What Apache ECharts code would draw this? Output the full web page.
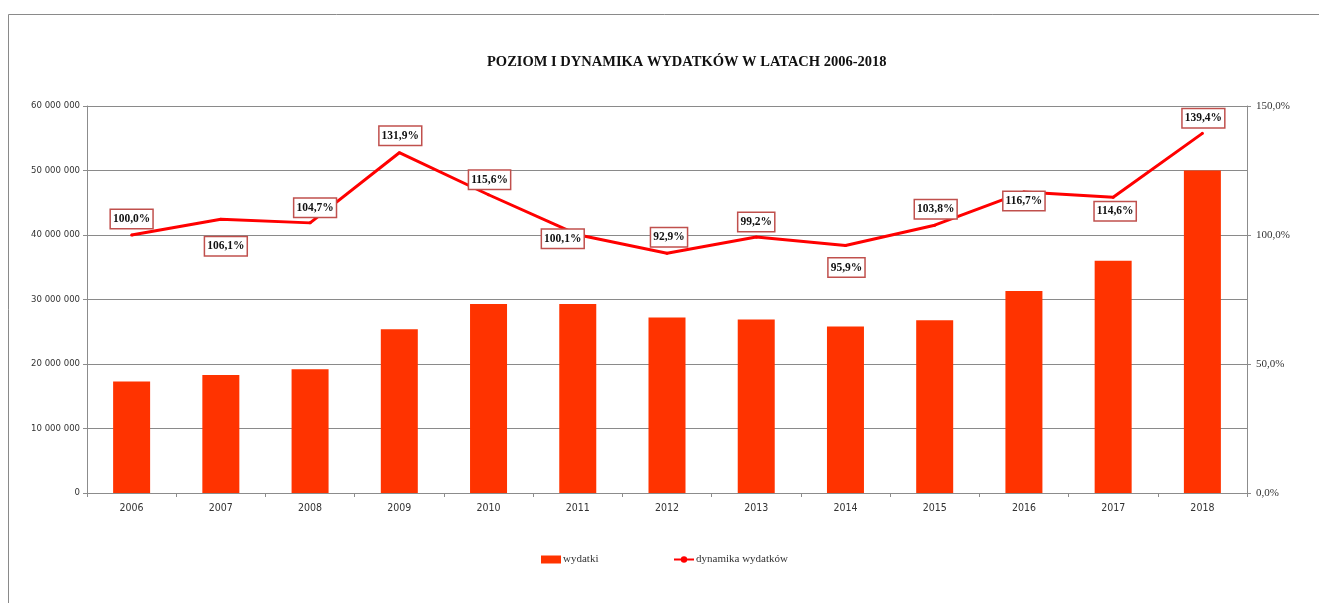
<!DOCTYPE html>
<html lang="pl">
<head>
  <meta charset="UTF-8">
  <title>Poziom i dynamika wydatków</title>
  <style>
    html, body { margin: 0; height: 100%; width: 100%; background: #fff; }
  </style>
</head>
<body>
  <div id="chart" style="width:1319px;height:603px"></div>
  <script src="https://cdn.jsdelivr.net/npm/echarts@6/dist/echarts.min.js"></script>
  <script>
    const years = ['2006', '2007', '2008', '2009', '2010', '2011', '2012', '2013', '2014', '2015', '2016', '2017', '2018']
    const wydatki = [17300000, 18300000, 19200000, 25400000, 29300000, 29300000, 27200000, 26900000, 25800000, 26800000, 31300000, 36000000, 50000000]
    const dynamika = [100.0, 106.1, 104.7, 131.9, 115.6, 100.1, 92.9, 99.2, 95.9, 103.8, 116.7, 114.6, 139.4]

    // where each percentage box sits relative to its point
    const labelShift = [[0, -16], [5, 27], [5, -15], [1, -17], [1, -15], [-15, 4], [2, -16],
      [0, -15], [1, 22], [1, -16], [0, 9], [2, 14], [1, -15]]

    const pct = v => v.toFixed(1).replace('.', ',') + '%'
    const spaced = v => String(v).replace(/\B(?=(\d{3})+(?!\d))/g, ' ')

    const axisGrey = '#8c8c8c'
    const sansNarrow = '"DejaVu Sans Condensed", "DejaVu Sans", sans-serif'
    const serif = '"Liberation Serif", serif'

    const option = {
      backgroundColor: '#fff',
      animation: false,
      graphic: [{
        type: 'rect',
        shape: { x: 8.5, y: 14.5, width: 1400, height: 700 },
        style: { fill: 'none', stroke: '#8a8a8a', lineWidth: 1 },
        silent: true
      }],
      title: {
        text: 'POZIOM I DYNAMIKA WYDATKÓW W LATACH 2006-2018',
        left: 482,
        top: 50,
        textStyle: { fontFamily: serif, fontWeight: 'bold', fontSize: 14.5, color: '#111' }
      },
      legend: [{
        left: 536,
        top: 549,
        itemWidth: 20,
        itemHeight: 8,
        icon: 'rect',
        data: ['wydatki'],
        textStyle: { fontFamily: serif, fontSize: 11, color: '#333', padding: [0, 0, 0, -3] }
      }, {
        left: 668,
        top: 549,
        itemWidth: 20,
        itemHeight: 8,
        data: ['dynamika wydatków'],
        textStyle: { fontFamily: serif, fontSize: 11, color: '#333', padding: [0, 0, 0, -3] }
      }],
      grid: { left: 87, right: 72, top: 106, bottom: 110 },
      xAxis: {
        type: 'category',
        data: years,
        axisLine: { lineStyle: { color: axisGrey } },
        axisTick: { show: true, length: 4, lineStyle: { color: axisGrey } },
        axisLabel: { margin: 10, fontFamily: sansNarrow, fontSize: 10.5, color: '#333' }
      },
      yAxis: [{
        type: 'value',
        min: 0,
        max: 60000000,
        interval: 10000000,
        axisLine: { show: true, lineStyle: { color: axisGrey } },
        axisTick: { show: true, length: 4, lineStyle: { color: axisGrey } },
        splitLine: { lineStyle: { color: '#8a8a8a', width: 1 } },
        axisLabel: { formatter: spaced, margin: 7, fontFamily: sansNarrow, fontSize: 9.5, color: '#333' }
      }, {
        type: 'value',
        min: 0,
        max: 150,
        interval: 50,
        position: 'right',
        axisLine: { show: true, lineStyle: { color: axisGrey } },
        axisTick: { show: true, length: 4, lineStyle: { color: axisGrey } },
        splitLine: { show: false },
        axisLabel: { formatter: pct, margin: 9, fontFamily: serif, fontSize: 11, color: '#333' }
      }],
      series: [{
        name: 'wydatki',
        type: 'bar',
        barWidth: 37,
        itemStyle: { color: '#ff3300' },
        data: wydatki
      }, {
        name: 'dynamika wydatków',
        type: 'line',
        yAxisIndex: 1,
        symbol: 'circle',
        symbolSize: 3,
        z: 5,
        lineStyle: { color: '#ff0000', width: 3 },
        itemStyle: { color: '#ff0000' },
        label: {
          show: true,
          position: 'inside',
          formatter: p => pct(p.value),
          fontFamily: serif,
          fontWeight: 'bold',
          fontSize: 11.5,
          lineHeight: 13,
          color: '#111',
          backgroundColor: '#fff',
          borderColor: '#c0504d',
          borderWidth: 1.5,
          padding: [3, 2, 2, 2]
        },
        data: dynamika.map((v, i) => ({ value: v, label: { offset: labelShift[i] } }))
      }]
    }

    const myChart = echarts.init(document.getElementById('chart'))
    myChart.setOption(option)
  </script>
</body>
</html>
